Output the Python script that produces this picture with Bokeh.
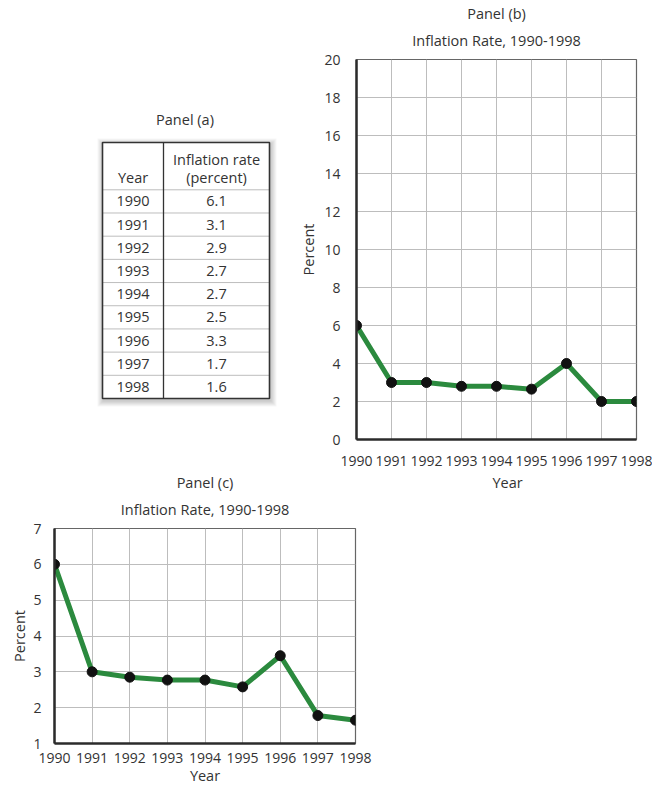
from bokeh.plotting import figure
from bokeh.layouts import column, row
from bokeh.models import Range1d, FixedTicker, Title
from bokeh.core.properties import value
from bokeh.embed import file_html
from bokeh.resources import INLINE

# ---------------- data ----------------
years = [1990, 1991, 1992, 1993, 1994, 1995, 1996, 1997, 1998]
table_rates = [6.1, 3.1, 2.9, 2.7, 2.7, 2.5, 3.3, 1.7, 1.6]
panel_b_rates = [6.0, 3.0, 3.0, 2.8, 2.8, 2.65, 4.0, 2.0, 2.0]
panel_c_rates = [6.0, 3.0, 2.85, 2.77, 2.77, 2.58, 3.45, 1.78, 1.65]
b_yticks = [0, 2, 4, 6, 8, 10, 12, 14, 16, 18, 20]
c_yticks = [1, 2, 3, 4, 5, 6, 7]
table_header_year = "Year"
table_header_rate = ["Inflation rate", "(percent)"]
title_a = "Panel (a)"
title_b = ["Panel (b)", "Inflation Rate, 1990-1998"]
title_c = ["Panel (c)", "Inflation Rate, 1990-1998"]

FONT = "Open Sans"
FS = "14.5px"
TFS = "14px"
TXT = "#333333"
GREEN = "#2b8a3e"
GRID = "#bdbdbd"

COMMON = dict(output_backend="svg", toolbar_location=None, frame_align=False)

ROW1_H = 469
TOTAL_W, TOTAL_H = 652, 787

# ---------------- panel (a): table ----------------
TW = 290
tf = figure(width=TW, height=ROW1_H, x_range=Range1d(0, TW), y_range=Range1d(ROW1_H, 0),
            x_axis_location=None, y_axis_location=None, min_border=0, **COMMON)
tf.grid.visible = False
tf.outline_line_color = None
tf.background_fill_color = "white"
tf.border_fill_color = "white"

L, R, T, B = 102, 269, 142, 398
DIV = 163
HB = 189.3
RH = (B - HB) / len(years)

# soft shadow
for k in range(6, 0, -1):
    tf.quad(left=[L - k + 1], right=[R + k + 1], top=[T - k + 2], bottom=[B + k + 2],
            fill_color="#000000", fill_alpha=0.035, line_color=None)
tf.quad(left=[L], right=[R], top=[T], bottom=[B], fill_color="white", line_color=None)
row_lines_y = [HB + RH * i for i in range(len(years))]
tf.segment(x0=[L] * len(row_lines_y), x1=[R] * len(row_lines_y), y0=row_lines_y, y1=row_lines_y,
           line_color=GRID, line_width=1)
tf.segment(x0=[DIV], x1=[DIV], y0=[T], y1=[B], line_color="#333333", line_width=1.3)
tf.quad(left=[L], right=[R], top=[T], bottom=[B], fill_color=None, line_color="#333333", line_width=1.6)

txt_kw = dict(text_align="center", text_baseline="middle", text_font=value(FONT),
              text_font_size=value(FS), text_color=TXT)
tf.text(x=[(L + R) / 2 - 1], y=[T - 23], text=[title_a], **txt_kw)
tf.text(x=[(L + DIV) / 2], y=[HB - 12.6], text=[table_header_year], **txt_kw)
tf.text(x=[(DIV + R) / 2, (DIV + R) / 2], y=[HB - 30, HB - 12.6], text=table_header_rate, **txt_kw)
row_y = [HB + RH * (i + 0.5) for i in range(len(years))]
tf.text(x=[(L + DIV) / 2] * len(years), y=row_y, text=[str(y) for y in years], **txt_kw)
tf.text(x=[(DIV + R) / 2] * len(years), y=row_y, text=[f"{v:.1f}" for v in table_rates], **txt_kw)


def style_chart(p, yticks, xstand, ystand, ylab_stand):
    xt = FixedTicker(ticks=years)
    yt = FixedTicker(ticks=yticks)
    p.xaxis.ticker = xt
    p.yaxis.ticker = yt
    p.xgrid.ticker = xt
    p.ygrid.ticker = yt
    p.grid.grid_line_color = GRID
    p.grid.grid_line_width = 1
    p.background_fill_color = "white"
    p.border_fill_color = "white"
    p.outline_line_color = "#666666"
    p.outline_line_width = 1.2
    for ax in (p.xaxis, p.yaxis):
        ax.major_tick_line_color = None
        ax.minor_tick_line_color = None
        ax.axis_line_color = "#2b2b2b"
        ax.axis_line_width = 2.5
        ax.major_label_text_font = FONT
        ax.major_label_text_font_size = TFS
        ax.major_label_text_color = TXT
        ax.axis_label_text_font = FONT
        ax.axis_label_text_font_size = FS
        ax.axis_label_text_font_style = "normal"
        ax.axis_label_text_color = TXT
    p.xaxis.major_label_standoff = xstand
    p.yaxis.major_label_standoff = ystand
    p.yaxis.axis_label = "Percent"
    p.yaxis.axis_label_standoff = ylab_stand
    p.title.text_font = FONT
    p.title.text_font_size = FS
    p.title.text_font_style = "normal"
    p.title.text_color = TXT
    p.title.align = "center"
    p.title.standoff = 0
    p.title.text_line_height = 0.8


def add_inner_title(p, text, standoff):
    p.add_layout(Title(text=text, align="center", text_font=FONT, text_font_size=FS,
                       text_font_style="normal", text_color=TXT, standoff=standoff,
                       text_line_height=0.8, vertical_align="top"), "above")


# ---------------- panel (b) ----------------
pb = figure(width=TOTAL_W - TW, height=ROW1_H, x_range=Range1d(1990, 1998), y_range=Range1d(0, 20),
            min_border_left=66, min_border_right=16, min_border_top=59, min_border_bottom=30,
            title=title_b[0], **COMMON)
style_chart(pb, b_yticks, 10, 10, 3)
add_inner_title(pb, title_b[1], 16)
pb.line(years, panel_b_rates, line_color=GREEN, line_width=5, line_join="round")
pb.scatter(years, panel_b_rates, size=10, fill_color="#111111", line_color="#111111")

# ---------------- panel (c) ----------------
PCW = 392
ROW2_H = TOTAL_H - ROW1_H
pc = figure(width=PCW, height=ROW2_H, x_range=Range1d(1990, 1998), y_range=Range1d(1, 7),
            min_border_left=54, min_border_right=37, min_border_top=59, min_border_bottom=43,
            title=title_c[0], **COMMON)
style_chart(pc, c_yticks, 3, 7, 1)
add_inner_title(pc, title_c[1], 16)
pc.xaxis.axis_label = "Year"
pc.xaxis.axis_label_standoff = 0
pc.line(years, panel_c_rates, line_color=GREEN, line_width=5, line_join="round")
pc.scatter(years, panel_c_rates, size=10, fill_color="#111111", line_color="#111111")

# ---------------- spacer with panel (b) x-axis label ----------------
SW = TOTAL_W - PCW
sp = figure(width=SW, height=ROW2_H, x_range=Range1d(0, SW), y_range=Range1d(ROW2_H, 0),
            x_axis_location=None, y_axis_location=None, min_border=0, **COMMON)
sp.grid.visible = False
sp.outline_line_color = None
sp.background_fill_color = "white"
sp.border_fill_color = "white"
sp.text(x=[115], y=[13], text=["Year"], **txt_kw)

layout = column(row(tf, pb), row(pc, sp))
open("out.html", "w").write(file_html(layout, INLINE))
